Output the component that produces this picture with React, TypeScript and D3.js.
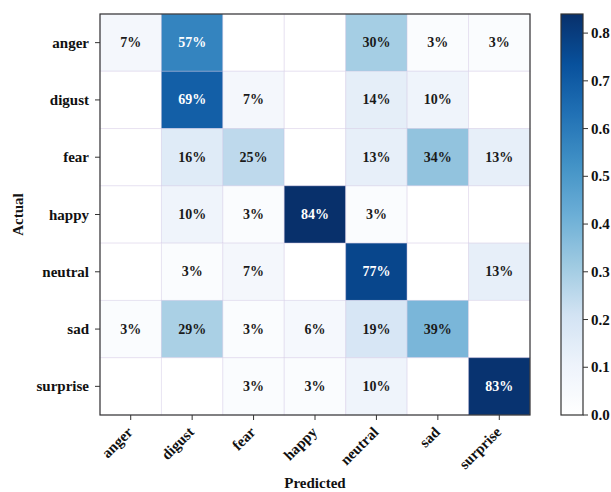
import React from "react";
import * as d3 from "d3";

// Confusion matrix of emotion classes (percent of each actual class)
const labels = ["anger", "digust", "fear", "happy", "neutral", "sad", "surprise"];
const angerRow = [7, 57, 0, 0, 30, 3, 3];
const digustRow = [0, 69, 7, 0, 14, 10, 0];
const fearRow = [0, 16, 25, 0, 13, 34, 13];
const happyRow = [0, 10, 3, 84, 3, 0, 0];
const neutralRow = [0, 3, 7, 0, 77, 0, 13];
const sadRow = [3, 29, 3, 6, 19, 39, 0];
const surpriseRow = [0, 0, 3, 3, 10, 0, 83];
const matrix = [angerRow, digustRow, fearRow, happyRow, neutralRow, sadRow, surpriseRow];
const colorbarTicks = [0.0, 0.1, 0.2, 0.3, 0.4, 0.5, 0.6, 0.7, 0.8];

// Blues-style colour ramp, starting from pure white
const rampColors = [
  "#ffffff", "#eef3fb", "#d2e3f3", "#9ecae1", "#6baed6",
  "#4292c6", "#2171b5", "#08519c", "#08306b",
];

const W = 611;
const H = 492;
const plot = { left: 100, top: 14, right: 530, bottom: 415 };
const bar = { left: 561, right: 583 };
const FONT = "'Liberation Serif', 'Times New Roman', serif";

export default function App() {
  const vmax = d3.max(matrix.flat())! / 100;
  const x = d3.scaleBand<string>().domain(labels).range([plot.left, plot.right]);
  const y = d3.scaleBand<string>().domain(labels).range([plot.top, plot.bottom]);
  const ramp = d3
    .scaleLinear<string>()
    .domain(d3.range(rampColors.length).map((i) => i / (rampColors.length - 1)))
    .range(rampColors)
    .interpolate(d3.interpolateRgb)
    .clamp(true);
  const color = (v: number) => ramp(v / vmax);
  const cbY = d3.scaleLinear().domain([0, vmax]).range([plot.bottom, plot.top]);

  const stops = d3.range(0, 1.0001, 0.025);

  return (
    <svg
      width={W}
      height={H}
      style={{ position: "absolute", left: 0, top: 0, background: "#fff" }}
      fontFamily={FONT}
      fontWeight="bold"
    >
      <defs>
        <linearGradient id="cbGrad" x1="0" y1="1" x2="0" y2="0">
          {stops.map((t) => (
            <stop key={t} offset={t} stopColor={ramp(t)} />
          ))}
        </linearGradient>
      </defs>

      {/* heatmap cells */}
      {matrix.map((row, i) =>
        row.map((v, j) => (
          <rect
            key={`c${i}-${j}`}
            x={x(labels[j])}
            y={y(labels[i])}
            width={x.bandwidth()}
            height={y.bandwidth()}
            fill={color(v / 100)}
            stroke="rgba(205,195,225,0.35)"
            strokeWidth={1}
          />
        ))
      )}

      {/* cell annotations */}
      {matrix.map((row, i) =>
        row.map((v, j) =>
          v > 0 ? (
            <text
              key={`t${i}-${j}`}
              x={x(labels[j])! + x.bandwidth() / 2}
              y={y(labels[i])! + y.bandwidth() / 2}
              textAnchor="middle"
              dominantBaseline="central"
              fontSize={14}
              fill={v / 100 > vmax / 2 ? "#ffffff" : "#1a1a1a"}
            >
              {`${v}%`}
            </text>
          ) : null
        )
      )}

      {/* plot frame */}
      <rect
        x={plot.left}
        y={plot.top}
        width={plot.right - plot.left}
        height={plot.bottom - plot.top}
        fill="none"
        stroke="#333"
        strokeWidth={1.2}
      />

      {/* y axis */}
      {labels.map((l) => {
        const cy = y(l)! + y.bandwidth() / 2;
        return (
          <g key={`y${l}`}>
            <line x1={plot.left - 5} x2={plot.left} y1={cy} y2={cy} stroke="#333" strokeWidth={1} />
            <text x={plot.left - 11} y={cy} textAnchor="end" dominantBaseline="central" fontSize={15} fill="#111">
              {l}
            </text>
          </g>
        );
      })}

      {/* x axis */}
      {labels.map((l) => {
        const cx = x(l)! + x.bandwidth() / 2;
        return (
          <g key={`x${l}`}>
            <line x1={cx} x2={cx} y1={plot.bottom} y2={plot.bottom + 5} stroke="#333" strokeWidth={1} />
            <text
              transform={`translate(${cx + 3},${plot.bottom + 18}) rotate(-45)`}
              textAnchor="end"
              fontSize={15}
              fill="#111"
            >
              {l}
            </text>
          </g>
        );
      })}

      {/* axis titles */}
      <text x={(plot.left + plot.right) / 2} y={488} textAnchor="middle" fontSize={15} fill="#111">
        Predicted
      </text>
      <text
        transform={`translate(23,${(plot.top + plot.bottom) / 2}) rotate(-90)`}
        textAnchor="middle"
        fontSize={15}
        fill="#111"
      >
        Actual
      </text>

      {/* colorbar */}
      <rect
        x={bar.left}
        y={plot.top}
        width={bar.right - bar.left}
        height={plot.bottom - plot.top}
        fill="url(#cbGrad)"
        stroke="#333"
        strokeWidth={1.2}
      />
      {colorbarTicks.map((t) => (
        <g key={`cb${t}`}>
          <line x1={bar.right} x2={bar.right + 5} y1={cbY(t)} y2={cbY(t)} stroke="#333" strokeWidth={1} />
          <text x={bar.right + 8} y={cbY(t)} dominantBaseline="central" fontSize={15} fill="#111">
            {t.toFixed(1)}
          </text>
        </g>
      ))}
    </svg>
  );
}
